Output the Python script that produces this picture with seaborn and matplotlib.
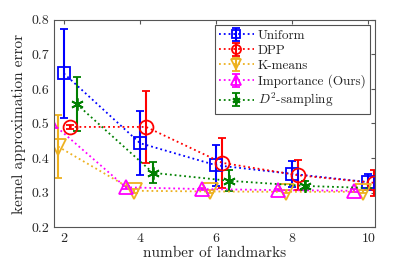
import numpy as np
import matplotlib
matplotlib.use("Agg")
import matplotlib.pyplot as plt
import seaborn as sns

# number of landmarks and values
landmarks = [2, 4, 6, 8, 10]

uniform_mean = [0.645, 0.443, 0.379, 0.354, 0.330]
uniform_err = [0.130, 0.093, 0.060, 0.037, 0.024]

dpp_mean = [0.490, 0.490, 0.386, 0.350, 0.328]
dpp_err = [0.006, 0.105, 0.072, 0.043, 0.037]

kmeans_mean = [0.433, 0.305, 0.303, 0.302, 0.302]
kmeans_err = [0.092, 0.005, 0.004, 0.004, 0.004]

importance_mean = [0.507, 0.315, 0.310, 0.307, 0.305]
importance_err = [0.010, 0.004, 0.004, 0.004, 0.004]

d2_mean = [0.556, 0.357, 0.334, 0.319, 0.312]
d2_err = [0.078, 0.030, 0.030, 0.013, 0.010]

sns.set_style("white")
plt.rcParams['font.family'] = ['cmr10', 'DejaVu Serif']
plt.rcParams['mathtext.fontset'] = 'cm'
plt.rcParams['axes.formatter.use_mathtext'] = True
plt.rcParams['axes.unicode_minus'] = False

fig = plt.figure(figsize=(4.15, 2.69), dpi=100)
ax = fig.add_axes([0.130, 0.156, 0.774, 0.770])

# name, mean, err, x offset, color, marker, marker size
series = [
    ("Uniform", uniform_mean, uniform_err, 0.0, "#0000ff", "s", 8),
    ("DPP", dpp_mean, dpp_err, 0.16, "#ff0000", "o", 10),
    ("K-means", kmeans_mean, kmeans_err, -0.15, "#edb120", "v", 11),
    ("Importance (Ours)", importance_mean, importance_err, -0.37, "#ff00ff", "^", 10),
    ("$D^2$-sampling", d2_mean, d2_err, 0.34, "#008000", (6, 2, 0), 9),
]

x = np.array(landmarks, dtype=float)
for name, m, e, off, col, mk, ms in series:
    ax.errorbar(x + off, m, yerr=e, color=col, ls=':', lw=1.3,
                marker=mk, ms=ms, mfc='none', mec=col, mew=1.3,
                capsize=3, capthick=1.3, elinewidth=1.5, label=name)

ax.set_xlim(1.74, 10.18)
ax.set_ylim(0.2, 0.8)
ax.set_xticks([2, 4, 6, 8, 10])
ax.set_yticks([0.2, 0.3, 0.4, 0.5, 0.6, 0.7, 0.8])
ax.set_yticklabels(["0.2", "0.3", "0.4", "0.5", "0.6", "0.7", "0.8"])
ax.tick_params(direction='in', top=True, right=True, labelsize=10,
               length=3, color='#555555', labelcolor='#262626')
for sp in ax.spines.values():
    sp.set_color('#555555')
    sp.set_linewidth(0.8)

ax.set_xlabel("number of landmarks", fontsize=11, labelpad=1)
ax.set_ylabel("kernel approximation error", fontsize=11, labelpad=4)

leg = ax.legend(loc='upper right', fontsize=9.5, frameon=True, fancybox=False,
                edgecolor='#262626', handlelength=2.6, borderpad=0.35,
                labelspacing=0.2, handletextpad=0.3, borderaxespad=0.4,
                markerscale=0.65)
leg.get_frame().set_linewidth(0.8)

fig.savefig("out.png", dpi=100)
